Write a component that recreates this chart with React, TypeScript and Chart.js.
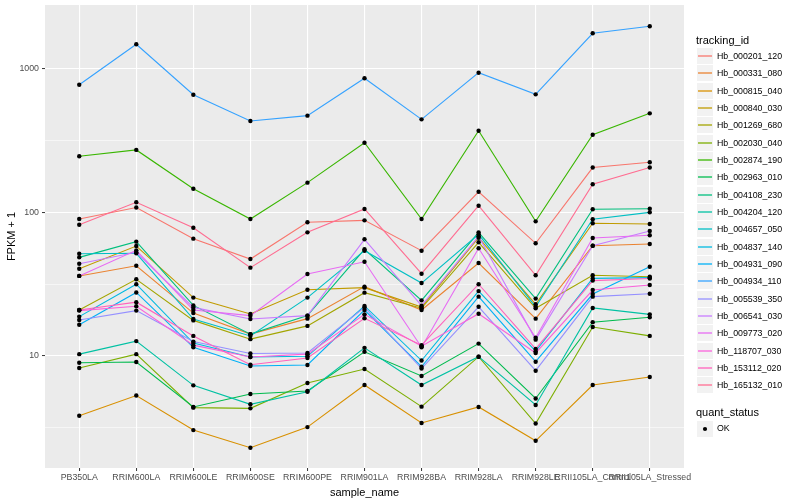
import React, { useEffect, useRef } from "react";
import { Chart, registerables } from "chart.js";

Chart.register(...registerables);

const sampleNames = [
  "PB350LA", "RRIM600LA", "RRIM600LE", "RRIM600SE", "RRIM600PE", "RRIM901LA",
  "RRIM928BA", "RRIM928LA", "RRIM928LE", "RRII105LA_Control", "RRII105LA_Stressed",
];

const trackingIds = [
  "Hb_000201_120", "Hb_000331_080", "Hb_000815_040", "Hb_000840_030", "Hb_001269_680",
  "Hb_002030_040", "Hb_002874_190", "Hb_002963_010", "Hb_004108_230", "Hb_004204_120",
  "Hb_004657_050", "Hb_004837_140", "Hb_004931_090", "Hb_004934_110", "Hb_005539_350",
  "Hb_006541_030", "Hb_009773_020", "Hb_118707_030", "Hb_153112_020", "Hb_165132_010",
];

const hb000201 = [89.9, 108, 65.6, 47.3, 85.3, 88.0, 54.1, 139, 60.9, 205, 223];
const hb000331 = [36.1, 42.5, 19.9, 14.2, 18.2, 30.4, 20.9, 44.4, 18.2, 58.6, 60.2];
const hb000815 = [3.84, 5.31, 3.05, 2.30, 3.20, 6.28, 3.42, 4.42, 2.57, 6.28, 7.14];
const hb000840 = [40.5, 58.3, 25.5, 19.6, 28.9, 29.9, 21.9, 66.6, 22.9, 83.9, 82.9];
const hb001269 = [20.9, 34.2, 17.7, 13.1, 16.2, 27.6, 21.5, 61.9, 21.5, 36.5, 35.6];
const hb002030 = [8.25, 10.3, 4.37, 4.32, 6.49, 8.12, 4.44, 9.89, 3.39, 15.9, 13.8];
const hb002874 = [246, 272, 146, 89.9, 161, 305, 89.9, 370, 86.6, 347, 489];
const hb002963 = [8.98, 9.08, 4.42, 5.44, 5.71, 10.7, 7.26, 12.2, 5.06, 17.2, 18.6];
const hb004108 = [48.6, 62.5, 22.5, 14.2, 19.1, 55.3, 24.4, 72.6, 25.1, 105, 106];
const hb004204 = [10.3, 12.7, 6.25, 4.61, 5.64, 11.4, 6.28, 9.89, 4.56, 21.6, 19.5];
const hb004657 = [51.5, 51.9, 18.1, 13.8, 25.5, 54.1, 32.2, 70.3, 22.0, 89.5, 100];
const hb004837 = [18.8, 31.6, 12.3, 9.84, 9.95, 22.3, 9.30, 28.3, 10.8, 34.7, 35.1];
const hb004931 = [16.5, 27.7, 11.5, 8.52, 8.66, 20.9, 8.42, 25.9, 9.13, 27.0, 41.8];
const hb004934 = [774, 1478, 659, 432, 471, 858, 444, 938, 663, 1764, 1973];
const hb005539 = [17.8, 20.7, 12.6, 10.4, 10.5, 21.8, 8.18, 22.0, 7.90, 25.9, 27.1];
const hb006541 = [43.9, 52.7, 21.8, 18.1, 19.1, 64.9, 22.4, 68.1, 13.0, 58.6, 74.2];
const hb009773 = [36.1, 54.4, 20.9, 19.1, 37.2, 45.3, 11.5, 56.2, 13.4, 66.3, 69.2];
const hb118707 = [20.7, 22.2, 11.9, 9.84, 10.3, 19.5, 11.7, 19.7, 10.5, 28.8, 31.2];
const hb153112 = [20.9, 23.7, 13.8, 8.70, 9.68, 18.3, 11.9, 31.6, 11.2, 33.5, 34.6];
const hb165132 = [82.0, 117.5, 78.2, 41.2, 72.6, 105.5, 37.4, 111.2, 36.5, 157, 205];

const seriesValues = [
  hb000201, hb000331, hb000815, hb000840, hb001269, hb002030, hb002874, hb002963,
  hb004108, hb004204, hb004657, hb004837, hb004931, hb004934, hb005539, hb006541,
  hb009773, hb118707, hb153112, hb165132,
];

const seriesColors = [
  "#F8766D", "#EA8331", "#D89000", "#C09B00", "#A3A500", "#7CAE00", "#39B600", "#00BB4E",
  "#00BF7D", "#00C1A3", "#00BFC4", "#00BAE0", "#00B0F6", "#35A2FF", "#9590FF", "#C77CFF",
  "#E76BF3", "#FA62DB", "#FF62BC", "#FF6C91",
];

const yMajorTicks = [10, 100, 1000];
const yMinorTicks = [3.1623, 31.623, 316.23];
const yMin = 1.661;
const yMax = 2776;
const quantStatus = ["OK"];

const FONT = '"Liberation Sans", Arial, Helvetica, sans-serif';

const panelBg = {
  id: "panelBg",
  beforeDraw(chart: any) {
    const { ctx, chartArea } = chart;
    if (!chartArea) return;
    ctx.save();
    ctx.fillStyle = "#EBEBEB";
    ctx.fillRect(chartArea.left, chartArea.top, chartArea.right - chartArea.left, chartArea.bottom - chartArea.top);
    ctx.restore();
  },
};

export default function App() {
  const canvasRef = useRef<HTMLCanvasElement | null>(null);

  useEffect(() => {
    if (!canvasRef.current) return;
    const lineSets = seriesValues.map((vals, i) => ({
      label: trackingIds[i],
      data: vals.map((v, j) => ({ x: j, y: v })),
      borderColor: seriesColors[i],
      backgroundColor: seriesColors[i],
      borderWidth: 1.1,
      pointRadius: 0,
      fill: false,
      tension: 0,
      order: 100 - i,
    }));
    const pointSets = seriesValues.map((vals, i) => ({
      label: trackingIds[i] + "_pts",
      data: vals.map((v, j) => ({ x: j, y: v })),
      showLine: false,
      pointRadius: 2.2,
      pointBackgroundColor: "#000000",
      pointBorderWidth: 0,
      pointBorderColor: "#000000",
      order: 0,
    }));
    const isMajorY = (v: number) => yMajorTicks.some((t) => Math.abs(t - v) < 1e-6);

    const chart = new Chart(canvasRef.current, {
      type: "line",
      data: { datasets: [...lineSets, ...pointSets] as any },
      plugins: [panelBg],
      options: {
        animation: false,
        responsive: false,
        devicePixelRatio: 1,
        layout: { padding: { left: 0, right: 116, top: 5, bottom: 0 } },
        plugins: { legend: { display: false }, tooltip: { enabled: false } },
        events: [],
        scales: {
          x: {
            type: "linear",
            min: -0.6,
            max: 10.6,
            afterBuildTicks: (scale: any) => {
              scale.ticks = sampleNames.map((_, i) => ({ value: i }));
            },
            afterFit: (scale: any) => {
              scale.height = 32;
              scale.paddingLeft = 0;
              scale.paddingRight = 0;
            },
            border: { display: false },
            grid: {
              color: "#FFFFFF",
              lineWidth: 1.1,
              drawTicks: true,
              tickLength: 3,
              tickColor: "#333333",
              tickWidth: 1,
            },
            ticks: {
              autoSkip: false,
              maxRotation: 0,
              minRotation: 0,
              padding: 1,
              color: "#4D4D4D",
              font: { family: FONT, size: 8.8 },
              callback: (v: any) => sampleNames[Math.round(Number(v))] ?? "",
            },
            title: {
              display: true,
              text: "sample_name",
              color: "#000000",
              font: { family: FONT, size: 11 },
              padding: { top: 5.5, bottom: 0 },
            },
          },
          y: {
            type: "logarithmic",
            min: yMin,
            max: yMax,
            afterBuildTicks: (scale: any) => {
              const all = [...yMinorTicks, ...yMajorTicks].sort((a, b) => a - b);
              scale.ticks = all.map((v) => ({ value: v, major: isMajorY(v) }));
            },
            afterFit: (scale: any) => {
              scale.width = 45;
              scale.paddingTop = 0;
              scale.paddingBottom = 0;
            },
            border: { display: false },
            grid: {
              color: "#FFFFFF",
              lineWidth: (ctx: any) => (ctx.tick && isMajorY(ctx.tick.value) ? 1.1 : 0.55),
              drawTicks: true,
              tickLength: 3,
              tickColor: (ctx: any) => (ctx.tick && isMajorY(ctx.tick.value) ? "#333333" : "rgba(0,0,0,0)"),
              tickWidth: 1,
            },
            ticks: {
              autoSkip: false,
              padding: 3,
              color: "#4D4D4D",
              font: { family: FONT, size: 8.8 },
              callback: (v: any) => (isMajorY(Number(v)) ? String(Math.round(Number(v))) : ""),
            },
            title: {
              display: true,
              text: "FPKM + 1",
              color: "#000000",
              font: { family: FONT, size: 11 },
              padding: { top: 5.5, bottom: 0 },
            },
          },
        },
      } as any,
    });
    return () => chart.destroy();
  }, []);

  const rowH = 17.33;
  const firstTop = 48;
  return (
    <div style={{ position: "absolute", left: 0, top: 0, width: 800, height: 500, background: "#FFFFFF", fontFamily: FONT }}>
      <canvas ref={canvasRef} width={800} height={500} style={{ position: "absolute", left: 0, top: 0, width: 800, height: 500 }} />
      <div style={{ position: "absolute", left: 696, top: 34, fontSize: 11, lineHeight: "13px", color: "#000" }}>tracking_id</div>
      {trackingIds.map((id, i) => (
        <React.Fragment key={id}>
          <svg width={16} height={16} style={{ position: "absolute", left: 697, top: Math.round(firstTop + i * rowH) }}>
            <rect x={0} y={0} width={16} height={16} fill="#F2F2F2" />
            <line x1={1} x2={15} y1={8} y2={8} stroke={seriesColors[i]} strokeWidth={1.3} />
          </svg>
          <div style={{ position: "absolute", left: 717, top: Math.round(firstTop + i * rowH), height: 17, lineHeight: "17px", fontSize: 8.8, color: "#000", whiteSpace: "nowrap" }}>{id}</div>
        </React.Fragment>
      ))}
      <div style={{ position: "absolute", left: 696, top: 406, fontSize: 11, lineHeight: "13px", color: "#000" }}>quant_status</div>
      {quantStatus.map((s, i) => (
        <React.Fragment key={s}>
          <svg width={16} height={16} style={{ position: "absolute", left: 697, top: 421 + i * 17 }}>
            <rect x={0} y={0} width={16} height={16} fill="#F2F2F2" />
            <circle cx={8} cy={8} r={2.1} fill="#000" />
          </svg>
          <div style={{ position: "absolute", left: 717, top: 420 + i * 17, height: 17, lineHeight: "17px", fontSize: 8.8, color: "#000" }}>{s}</div>
        </React.Fragment>
      ))}
    </div>
  );
}
